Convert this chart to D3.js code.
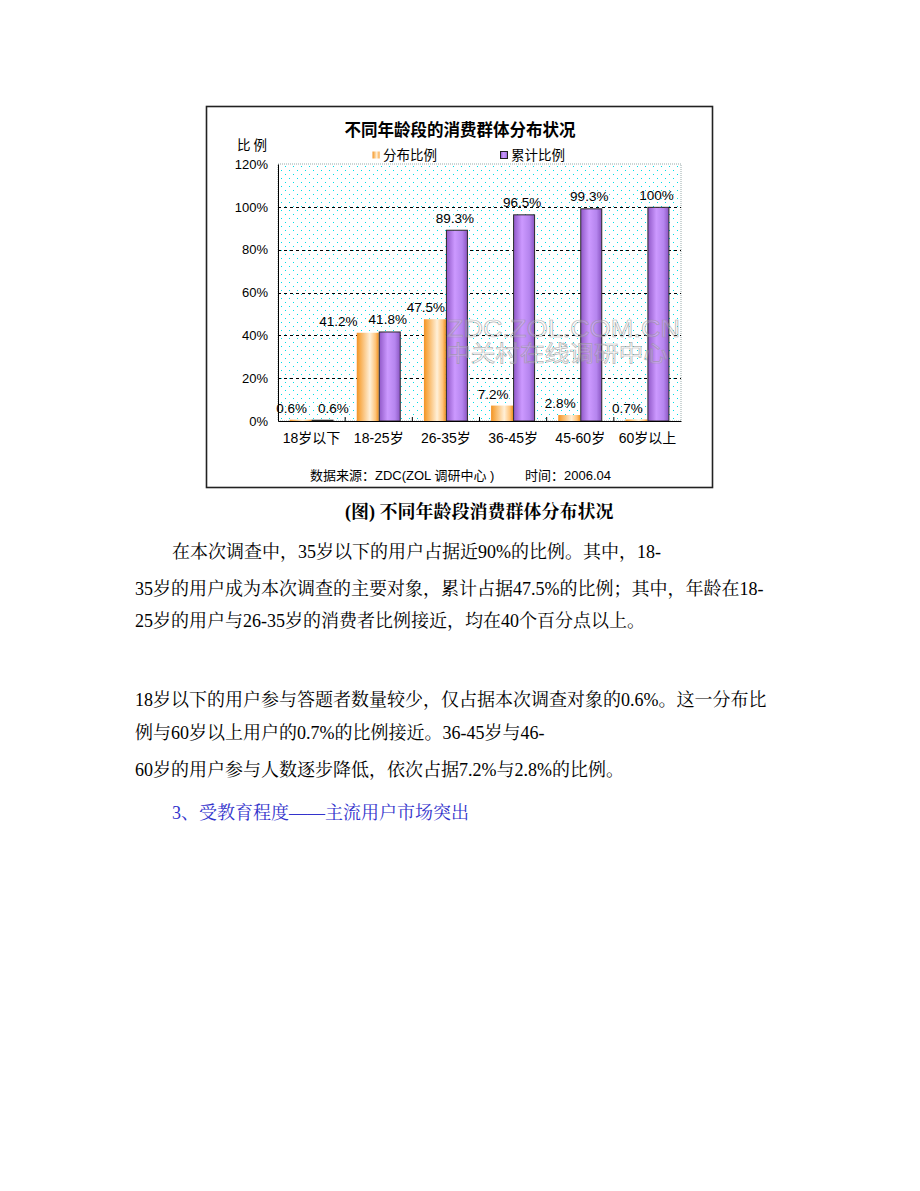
<!DOCTYPE html>
<html><head><meta charset="utf-8">
<script src="https://cdn.jsdelivr.net/npm/d3@7/dist/d3.min.js"></script>
<style>
html,body{margin:0;padding:0;background:#fff;}
svg{display:block;}
</style></head>
<body>
<svg id="c" width="920" height="1191"></svg>
<script>
// ---- data ----
const categories = ["18岁以下","18-25岁","26-35岁","36-45岁","45-60岁","60岁以上"];
const seriesNames = ["分布比例","累计比例"];
const distribution = [0.6, 41.2, 47.5, 7.2, 2.8, 0.7];
const cumulative = [0.6, 41.8, 89.3, 96.5, 99.3, 100];
const yTicks = [0, 20, 40, 60, 80, 100, 120];
const chartTitle = "不同年龄段的消费群体分布状况";
const yTitle = "比例";
const sourceText = "数据来源：ZDC(ZOL 调研中心 )";
const timeText = "时间：2006.04";
const watermark1 = "ZDC.ZOL.COM.CN";
const watermark2 = "中关村在线调研中心";
const caption = "(图) 不同年龄段消费群体分布状况";
const paragraphs = [
  "在本次调查中，35岁以下的用户占据近90%的比例。其中，18-",
  "35岁的用户成为本次调查的主要对象，累计占据47.5%的比例；其中，年龄在18-",
  "25岁的用户与26-35岁的消费者比例接近，均在40个百分点以上。",
  "18岁以下的用户参与答题者数量较少，仅占据本次调查对象的0.6%。这一分布比",
  "例与60岁以上用户的0.7%的比例接近。36-45岁与46-",
  "60岁的用户参与人数逐步降低，依次占据7.2%与2.8%的比例。"
];
const heading = "3、受教育程度——主流用户市场突出";

// ---- layout ----
const svg = d3.select("#c");
const sans = "'Liberation Sans', Arial, 'Noto Sans CJK SC', sans-serif";
const serif = "'Liberation Serif', 'Times New Roman', 'Noto Serif CJK SC', 'Noto Sans CJK SC', serif";
const plot = {l: 278, r: 681, t: 164, b: 421};

const defs = svg.append("defs");
const pat = defs.append("pattern").attr("id","dots").attr("patternUnits","userSpaceOnUse")
  .attr("width",8).attr("height",8);
pat.append("rect").attr("width",8).attr("height",8).attr("fill","#fff");
pat.append("rect").attr("x",1).attr("y",2).attr("width",1).attr("height",1).attr("fill","#00dde8");
pat.append("rect").attr("x",5).attr("y",6).attr("width",1).attr("height",1).attr("fill","#00dde8");

const gO = defs.append("linearGradient").attr("id","gO");
[[0,"#f29226"],[0.12,"#f7a845"],[0.6,"#fff0d8"],[0.85,"#ffc47a"],[1,"#f0901e"]]
  .forEach(s=>gO.append("stop").attr("offset",s[0]).attr("stop-color",s[1]));
const gP = defs.append("linearGradient").attr("id","gP");
[[0,"#9058c8"],[0.4,"#cc99ff"],[0.75,"#b585ee"],[1,"#8a55c2"]]
  .forEach(s=>gP.append("stop").attr("offset",s[0]).attr("stop-color",s[1]));

// outer frame
svg.append("rect").attr("x",206.5).attr("y",106.5).attr("width",506).attr("height",381)
  .attr("fill","#fff").attr("stroke","#222").attr("stroke-width",1.6);

// scales
const x0 = d3.scaleBand().domain(categories).range([plot.l, plot.r]).padding(0);
const pairW = 44;
const x1 = d3.scaleBand().domain(seriesNames).range([0, pairW]).padding(0);
const y = d3.scaleLinear().domain([0,120]).range([plot.b, plot.t]);

// plot background
svg.append("rect").attr("x",plot.l).attr("y",plot.t).attr("width",plot.r-plot.l).attr("height",plot.b-plot.t)
  .attr("fill","url(#dots)").attr("stroke","#9aa").attr("stroke-width",1).attr("stroke-dasharray","1,1");

// gridlines
svg.append("g").selectAll("line").data(yTicks.filter(t=>t>0 && t<120)).join("line")
  .attr("x1",plot.l).attr("x2",plot.r).attr("y1",d=>Math.round(y(d))+0.5).attr("y2",d=>Math.round(y(d))+0.5)
  .attr("stroke","#000").attr("stroke-width",1).attr("stroke-dasharray","3,3");

// y axis labels
const yAxis = d3.axisLeft(y).tickValues(yTicks).tickFormat(d=>d+"%").tickSize(0).tickPadding(10);
const ya = svg.append("g").attr("transform",`translate(${plot.l},0)`).call(yAxis);
ya.select(".domain").attr("stroke","#000");
ya.selectAll("text").attr("font-family",sans).attr("font-size",13).attr("fill","#000");

// bars
const groups = svg.append("g").selectAll("g").data(categories).join("g")
  .attr("transform",d=>`translate(${x0(d)+(x0.bandwidth()-pairW)/2},0)`);
groups.append("rect").attr("x",x1(seriesNames[0])).attr("width",x1.bandwidth())
  .attr("y",(d,i)=>y(distribution[i])).attr("height",(d,i)=>plot.b-y(distribution[i]))
  .attr("fill","url(#gO)");
groups.append("rect").attr("x",x1(seriesNames[1])+0.5).attr("width",x1.bandwidth()-1)
  .attr("y",(d,i)=>y(cumulative[i])+0.5).attr("height",(d,i)=>Math.max(0,plot.b-y(cumulative[i])-0.5))
  .attr("fill","url(#gP)").attr("stroke","#2a2a2a").attr("stroke-width",1);

// x axis
const xAxis = d3.axisBottom(x0).tickSize(0).tickPadding(12);
const xa = svg.append("g").attr("transform",`translate(0,${plot.b})`).call(xAxis);
xa.select(".domain").attr("stroke","#000").attr("stroke-width",1.2);
xa.selectAll("text").attr("font-family",sans).attr("font-size",14).attr("fill","#000").attr("dy","0.71em");
svg.append("g").selectAll("line").data(categories.slice(1)).join("line")
  .attr("x1",d=>x0(d)).attr("x2",d=>x0(d)).attr("y1",plot.b-4).attr("y2",plot.b)
  .attr("stroke","#000");

// value labels
const labG = svg.append("g").attr("font-family",sans).attr("font-size",13.5).attr("fill","#000")
  .attr("text-anchor","middle");
categories.forEach((c,i)=>{
  const base = x0(c)+(x0.bandwidth()-pairW)/2;
  const oVal = distribution[i], pVal = cumulative[i];
  const to = labG.append("text").text(oVal+"%").attr("y",y(oVal)-7);
  const tp = labG.append("text").text(pVal+"%").attr("y",y(pVal)-7);
  let ox = base + x1(seriesNames[0]) + x1.bandwidth()/2 - 9;
  let px = base + x1(seriesNames[1]) + x1.bandwidth()/2 - 2;
  const wo = to.node().getComputedTextLength(), wp = tp.node().getComputedTextLength();
  const gap = 11;
  if (Math.abs(y(oVal)-y(pVal)) < 14 && (ox+wo/2+gap) > (px-wp/2)) {
    if (pVal > oVal) ox = px - wp/2 - gap - wo/2;
    else px = ox + wo/2 + gap + wp/2;
  }
  to.attr("x",ox); tp.attr("x",px);
});

// watermark
svg.append("text").text(watermark1).attr("x",447).attr("y",337).attr("textLength",233)
  .attr("lengthAdjust","spacingAndGlyphs")
  .attr("font-family",sans).attr("font-size",23).attr("fill","rgba(255,255,255,0.25)")
  .attr("stroke","#999").attr("stroke-width",0.7).attr("opacity",0.7);
svg.append("text").text(watermark2).attr("x",446).attr("y",361).attr("textLength",222)
  .attr("lengthAdjust","spacingAndGlyphs")
  .attr("font-family",sans).attr("font-size",22).attr("fill","rgba(255,255,255,0.25)")
  .attr("stroke","#999").attr("stroke-width",0.7).attr("opacity",0.7);

// title
svg.append("text").text(chartTitle).attr("x",460).attr("y",130).attr("text-anchor","middle")
  .attr("dominant-baseline","central").attr("font-family",sans).attr("font-weight","bold")
  .attr("font-size",16.5).attr("fill","#000");
svg.append("text").text(yTitle).attr("x",237).attr("y",145).attr("dominant-baseline","central")
  .attr("font-family",sans).attr("font-size",13.5).attr("letter-spacing",3).attr("fill","#000");

// legend
const leg = [{x:372, name:seriesNames[0], fill:"url(#gO)", stroke:"none"},
             {x:500, name:seriesNames[1], fill:"url(#gP)", stroke:"#222"}];
const lg = svg.append("g").selectAll("g").data(leg).join("g");
lg.append("rect").attr("x",d=>d.x+0.5).attr("y",151.5).attr("width",7).attr("height",7)
  .attr("fill",d=>d.fill).attr("stroke",d=>d.stroke);
lg.append("text").text(d=>d.name).attr("x",d=>d.x+11).attr("y",155).attr("dominant-baseline","central")
  .attr("font-family",sans).attr("font-size",13.5).attr("fill","#000");

// source
svg.append("text").text(sourceText).attr("x",310).attr("y",475).attr("dominant-baseline","central")
  .attr("font-family",sans).attr("font-size",13).attr("fill","#000");
svg.append("text").text(timeText).attr("x",525).attr("y",475).attr("dominant-baseline","central")
  .attr("font-family",sans).attr("font-size",13).attr("fill","#000");

// caption & body
svg.append("text").text(caption).attr("x",345).attr("y",512).attr("dominant-baseline","central")
  .attr("font-family",serif).attr("font-weight","bold").attr("font-size",18).attr("fill","#000");
const lineY = [552, 589, 621, 700, 733, 770];
const lineX = [172, 135, 135, 135, 135, 135];
svg.append("g").selectAll("text").data(paragraphs).join("text")
  .text(d=>d).attr("x",(d,i)=>lineX[i]).attr("y",(d,i)=>lineY[i]).attr("dominant-baseline","central")
  .attr("font-family",serif).attr("font-size",18).attr("fill","#000");
svg.append("text").text(heading).attr("x",172).attr("y",813).attr("dominant-baseline","central")
  .attr("font-family",serif).attr("font-size",18).attr("fill","#3333cc");
</script>
</body></html>
